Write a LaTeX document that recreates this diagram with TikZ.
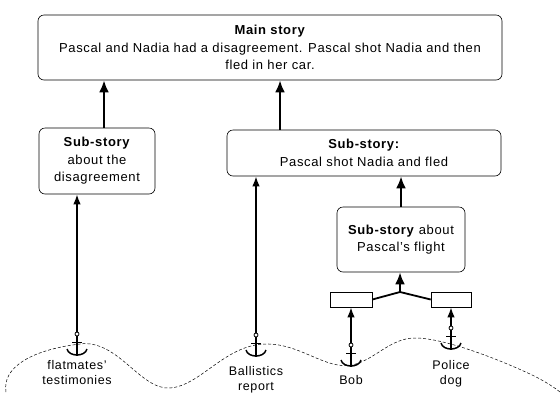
\documentclass[tikz,border=0pt]{standalone}
\usepackage{fontspec}
\setmainfont[LetterSpace=5]{Liberation Sans}
\usetikzlibrary{positioning, calc, arrows.meta}

\tikzset{
  story/.style={draw, rounded corners=6pt, align=center, line width=0.6pt, inner sep=1pt},
  evbox/.style={draw, minimum height=15pt, line width=0.6pt, inner sep=0pt},
  uparrow/.style={-{Latex[length=12pt,width=10pt]}, line width=2.6pt},
  evarrow/.style={-{Latex[length=10pt,width=7.5pt]}, line width=1.5pt},
  ground/.style={densely dashed, line width=0.5pt},
  lbl/.style={align=center, font=\fontsize{12.5}{15}\selectfont},
  anchorsym/.pic={
    \draw[line width=0.8pt] (0,0) circle (2pt);
    \draw[line width=1.4pt] (0,2) -- (0,22);
    \draw[line width=1pt] (-5,8) -- (5,8);
    \draw[line width=1.5pt] (-10,15) .. controls (-8,23) and (8,23) .. (10,15);
  }
}

\begin{document}
\begin{tikzpicture}[x=1pt, y=-1pt, font=\fontsize{13}{17.5}\selectfont]
\useasboundingbox (0,0) rectangle (560,392);

% boxes
\node[story, minimum width=464pt, minimum height=65pt] (main) at (270,47.5) {\textbf{Main story}\\Pascal and Nadia had a disagreement. Pascal shot Nadia and then\\fled in her car.};
\node[story, minimum width=116pt, minimum height=66pt] (disagree) at (97,161) {\textbf{Sub-story}\\about the\\disagreement};
\node[story, minimum width=274pt, minimum height=46pt] (shot) at (364,153) {\textbf{Sub-story:}\\Pascal shot Nadia and fled};
\node[story, minimum width=128pt, minimum height=65pt] (flight) at (401,239.5) {\textbf{Sub-story} about\\Pascal's flight};
\node[evbox, minimum width=42pt] (bobbox) at (351,299.5) {};
\node[evbox, minimum width=40pt] (dogbox) at (451,299.5) {};
\coordinate (join) at (400,292);

% ground line
\draw[ground] (6,392) .. controls (2,368) and (30,350) .. (80,344)
  .. controls (118,339) and (140,390) .. (170,388)
  .. controls (200,386) and (225,345) .. (265,344)
  .. controls (300,343) and (325,370) .. (352,365)
  .. controls (375,360) and (390,338) .. (415,338)
  .. controls (445,338) and (500,360) .. (530,374)
  .. controls (545,381) and (555,388) .. (560,392);

% anchors
\coordinate (flat) at (77,334);
\coordinate (ball) at (256,335);
\coordinate (bob) at (351,345);
\coordinate (dog) at (451,328);
\foreach \a in {flat,ball,bob,dog}
  \pic at (\a) {anchorsym};

\node[lbl] (flatlbl) at (77,373) {flatmates'\\testimonies};
\node[lbl] (balllbl) at (256,380) {Ballistics\\report};
\node[lbl] (boblbl) at (351,380) {Bob};
\node[lbl] (doglbl) at (451,374) {Police\\dog};

% arrows
\draw[uparrow] ([xshift=7pt]disagree.north) -- ([xshift=7pt]disagree.north |- main.south);
\draw[uparrow] ([xshift=-84pt]shot.north) -- ([xshift=-84pt]shot.north |- main.south);
\draw[uparrow] (flight.north) -- (flight.north |- shot.south);
\draw[uparrow] (join) -- (join |- flight.south);
\draw[line width=1.8pt] (bobbox.east) -- (join) -- (dogbox.west);
\draw[evarrow] ([yshift=2pt]flat) -- (flat |- disagree.south);
\draw[evarrow] ([yshift=2pt]ball) -- (ball |- shot.south);
\draw[evarrow] ([yshift=2pt]bob) -- (bob |- bobbox.south);
\draw[evarrow] ([yshift=2pt]dog) -- (dog |- dogbox.south);
\end{tikzpicture}
\end{document}
